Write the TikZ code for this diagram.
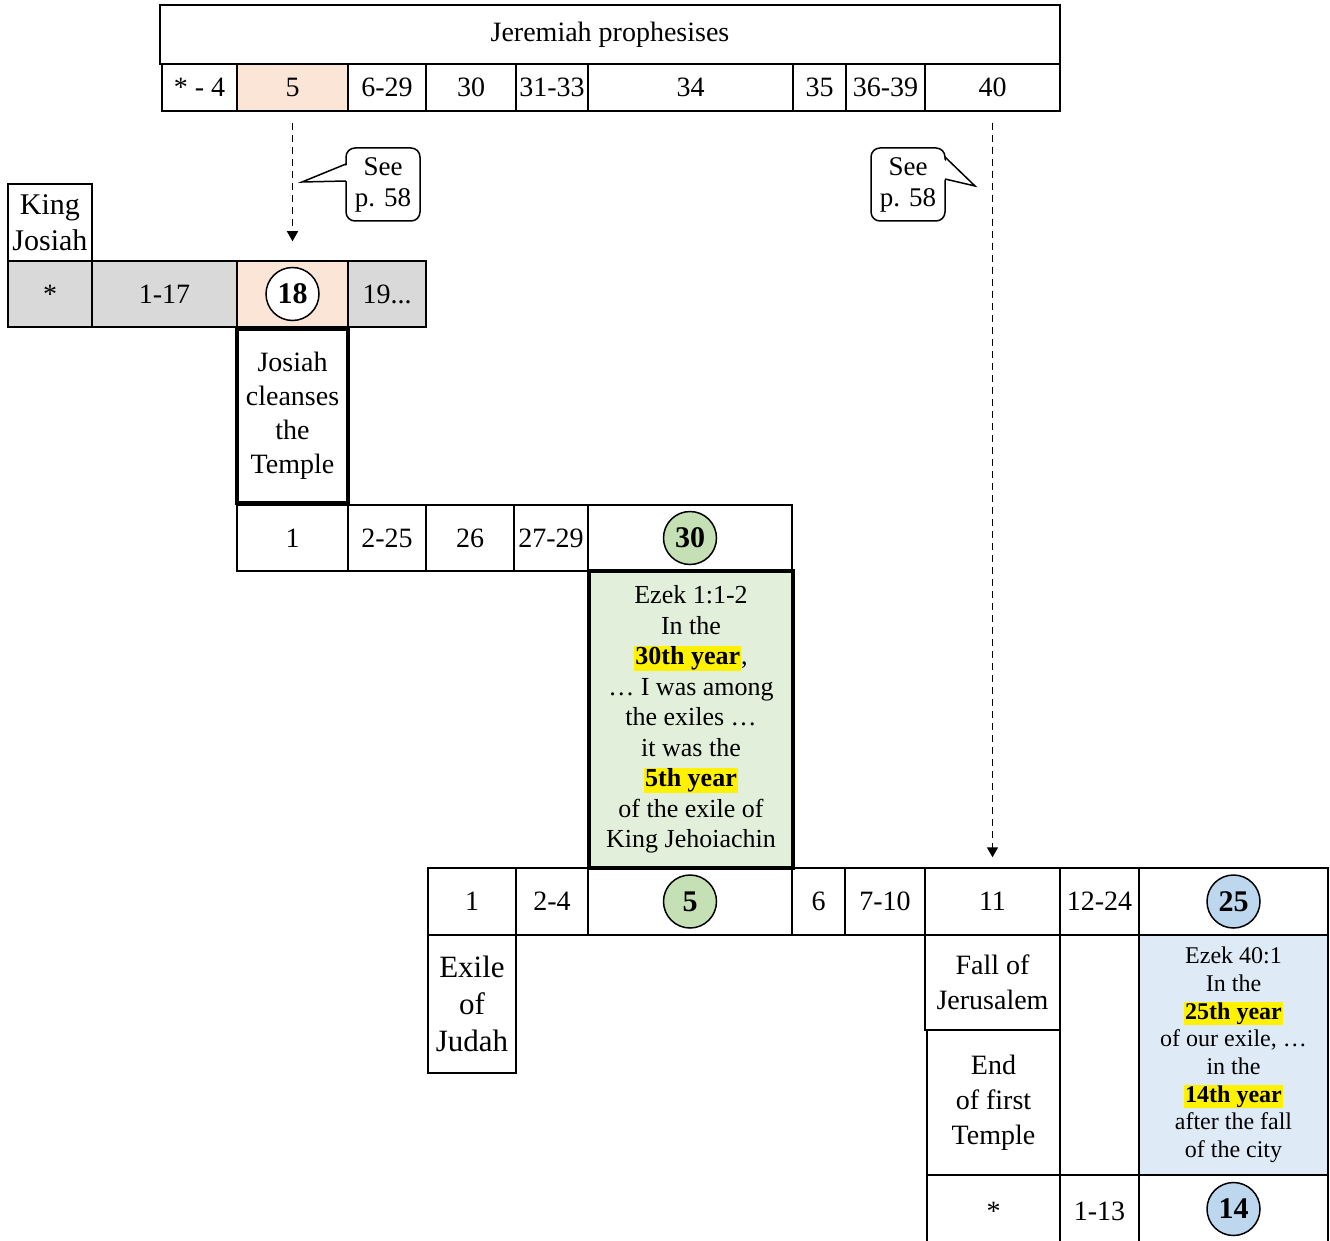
\documentclass[tikz,border=0pt]{standalone}
\usepackage{fontspec}
\setmainfont{Liberation Serif}
\usetikzlibrary{arrows.meta}
\definecolor{greyfill}{HTML}{D9D9D9}
\definecolor{peach}{HTML}{FBE5D6}
\definecolor{leaf}{HTML}{C5E0B4}
\definecolor{leaflight}{HTML}{E2EFDA}
\definecolor{sky}{HTML}{BDD7EE}
\definecolor{skylight}{HTML}{DEEBF7}
\newcommand{\yearhl}[1]{{\setlength{\fboxsep}{1pt}\colorbox{yellow}{\textbf{#1}}}}

\begin{document}
\begin{tikzpicture}[x=1pt,y=-1pt,
   cell/.style={draw,line width=1.5pt,inner sep=0pt,align=center,font=\fontsize{28}{34}\selectfont},
   framed/.style={cell,line width=4pt},
   yr/.style={circle,draw,line width=1.5pt,minimum size=53pt,inner sep=0pt,font=\bfseries\fontsize{30}{30}\selectfont},
   bubble/.style={draw,fill=white,line width=1.5pt,rounded corners=9pt,minimum width=74pt,minimum height=73pt,
                  inner sep=0pt,align=center,font=\fontsize{27}{31}\selectfont},
   seearrow/.style={line width=1.5pt,dash pattern=on 7pt off 5pt,-{Triangle[length=10pt,width=11pt]}}]

  \useasboundingbox (0,0) rectangle (1330,1241);
  \fill[white] (0,0) rectangle (1330,1241);

  % --- Jeremiah ---
  \node[cell,minimum width=900,minimum height=59] (jer) at (610,34.5) {Jeremiah prophesises};
  \foreach \cx/\w/\f/\t/\n in {199.5/75/white/{* - 4}/jr4, 292.5/111/peach/5/jr5, 387/78/white/6-29/jr29,
      471/90/white/30/jr30, 552/72/white/31-33/jr33, 690.5/205/white/34/jr34, 819.5/53/white/35/jr35,
      885.5/79/white/36-39/jr39, 992.5/135/white/40/jr40}
    \node[cell,fill=\f,minimum width=\w,minimum height=47] (\n) at (\cx,87.5) {\t};

  % --- King Josiah ---
  \node[cell,minimum width=84,minimum height=77,font=\fontsize{30}{36}\selectfont] (king) at (50,222.5) {King\\Josiah};
  \foreach \cx/\w/\f/\t/\n in {50/84/greyfill/*/js0, 164.5/145/greyfill/1-17/js17, 292.5/111/peach/{}/js18,
      387/78/greyfill/{19.{}.{}.}/js19}
    \node[cell,fill=\f,minimum width=\w,minimum height=66] (\n) at (\cx,294) {\t};
  \node[yr,fill=white] (c18) at (js18) {18};
  \node[framed,minimum width=111,minimum height=174] (cleanse) at (292.5,416) {Josiah\\cleanses\\the\\Temple};

  % --- Ezekiel, age ---
  \foreach \cx/\w/\t/\n in {292.5/111/1/ez1, 387/78/2-25/ez25, 470/88/26/ez26, 551/74/27-29/ez29, 690/204/{}/ez30}
    \node[cell,minimum width=\w,minimum height=66] (\n) at (\cx,538) {\t};
  \node[yr,fill=leaf] (c30) at (ez30) {30};
  \node[framed,fill=leaflight,minimum width=204,minimum height=297,font=\fontsize{26}{30.5}\selectfont] (ezek1)
    at (691,719.5) {Ezek 1:1-2\\In the\\\yearhl{30th year},\\… I was among\\the exiles …\\it was the\\\yearhl{5th year}\\of the exile of\\King Jehoiachin};

  % --- exile years ---
  \foreach \cx/\w/\t/\n in {472/88/1/ex1, 552/72/2-4/ex4, 690/204/{}/ex5, 818.5/53/6/ex6, 885/80/7-10/ex10,
      992.5/135/11/ex11, 1099.5/79/12-24/ex24, 1233.5/189/{}/ex25}
    \node[cell,minimum width=\w,minimum height=67] (\n) at (\cx,901.5) {\t};
  \node[yr,fill=leaf] (c5) at (ex5) {5};
  \node[yr,fill=sky] (c25) at (ex25) {25};

  \node[cell,minimum width=88,minimum height=138,font=\fontsize{31}{37}\selectfont] (exile) at (472,1004) {Exile\\of\\Judah};
  \node[cell,minimum width=135,minimum height=95,font=\fontsize{28}{35}\selectfont] (fall) at (992.5,982.5) {Fall of\\Jerusalem};
  \node[cell,minimum width=133,minimum height=145,font=\fontsize{28}{35}\selectfont] (endtemple) at (993.5,1102.5) {End\\of first\\Temple};
  \node[cell,minimum width=79,minimum height=240] (gap) at (1099.5,1055) {};
  \node[cell,fill=skylight,minimum width=189,minimum height=240,font=\fontsize{24}{27.7}\selectfont] (ezek40)
    at (1233.5,1055) {Ezek 40:1\\In the\\\yearhl{25th year}\\of our exile, …\\in the\\\yearhl{14th year}\\after the fall\\of the city};

  % --- years after the fall ---
  \foreach \cx/\w/\t/\n in {993.5/133/*/ey0, 1099.5/79/1-13/ey13, 1233.5/189/{}/ey14}
    \node[cell,minimum width=\w,minimum height=72] (\n) at (\cx,1211) {\t};
  \node[yr,fill=sky] (c14) at (1233.5,1209) {14};

  % --- see p. 58 ---
  \node[bubble] (see1) at (383,184.5) {See\\p. 58};
  \coordinate (tip1) at (302,182);
  \fill[white] (350,164) -- (tip1) -- (350,181) -- cycle;
  \draw[line width=1.5pt,line join=miter] (346,164) -- (tip1) -- (346,181);

  \node[bubble] (see2) at (908,184.5) {See\\p. 58};
  \coordinate (tip2) at (975,186);
  \fill[white] (941,157) -- (tip2) -- (941,179) -- cycle;
  \draw[line width=1.5pt,line join=miter] (945,157) -- (tip2) -- (945,179);

  \draw[seearrow,shorten <=11pt,shorten >=19pt] (jr5) -- (js18);
  \draw[seearrow,shorten <=11pt,shorten >=10pt] (jr40) -- (ex11);
\end{tikzpicture}
\end{document}
